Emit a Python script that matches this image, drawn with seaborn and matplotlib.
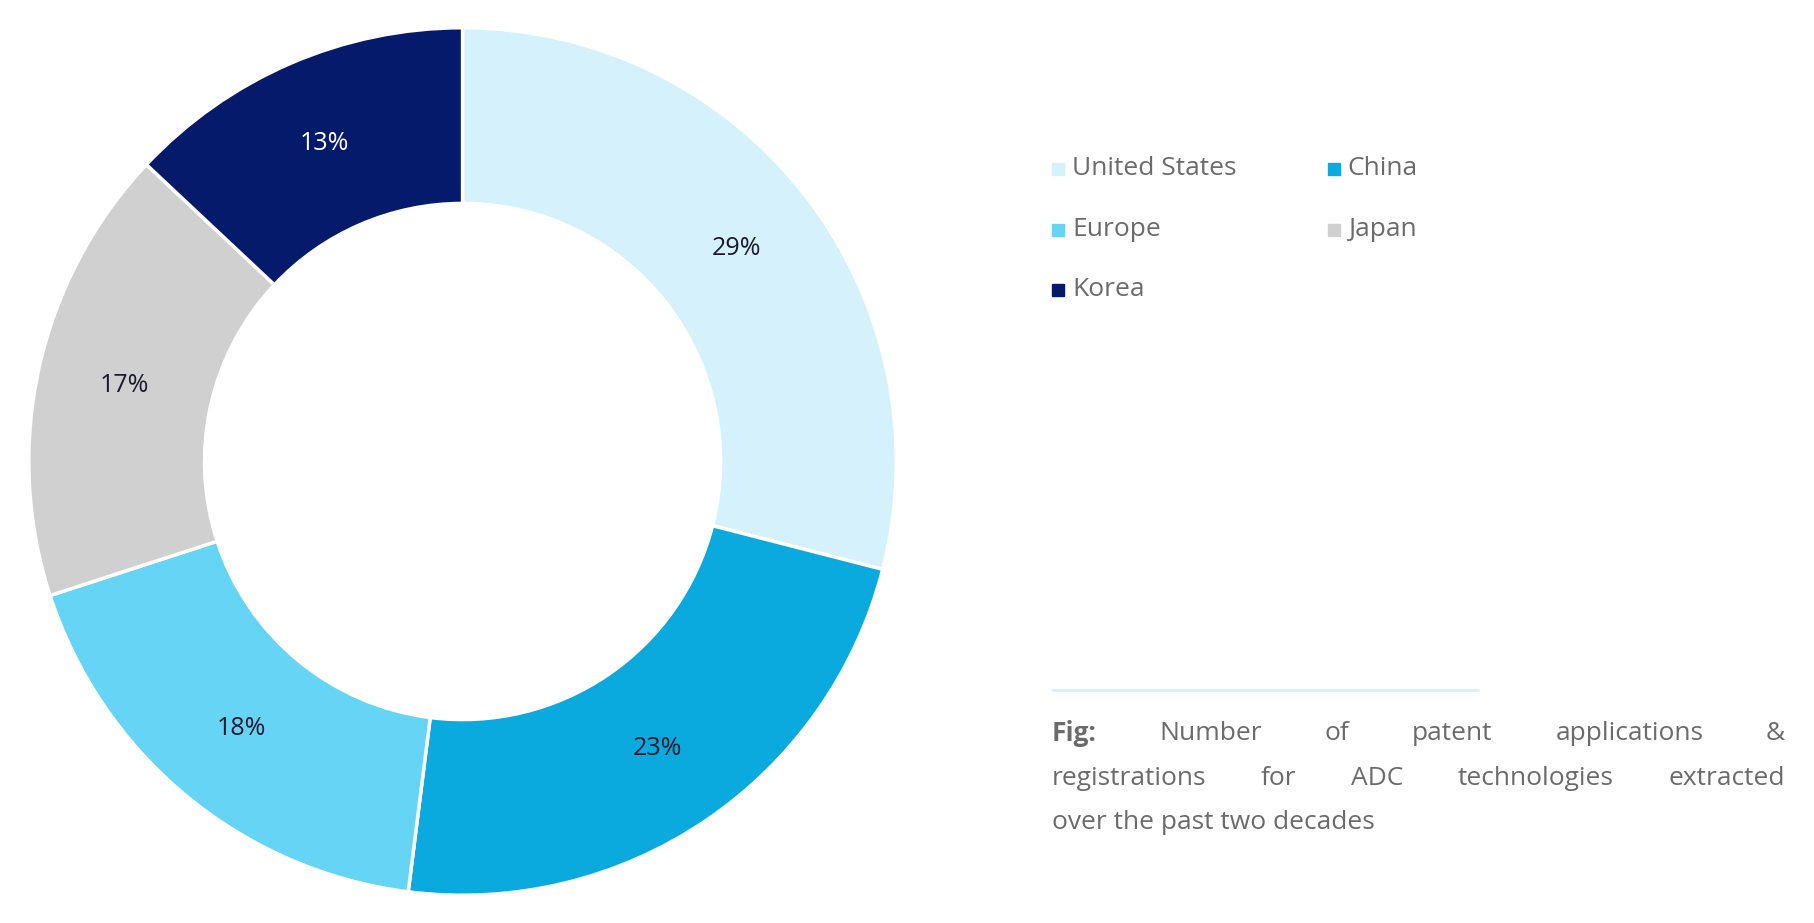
import matplotlib
matplotlib.use("Agg")
import matplotlib.pyplot as plt
import seaborn as sns

sns.set_theme(style="white")
plt.rcParams['font.family'] = ['Open Sans', 'DejaVu Sans']

categories = ["United States", "China", "Europe", "Japan", "Korea"]
values = [29, 23, 18, 17, 13]
colors = ["#d5f1fb", "#0aa9de", "#66d4f5", "#d0d0d0", "#061a6c"]
label_colors = ["#1a1a2e", "#1a1a2e", "#1a1a2e", "#1a1a2e", "white"]

fig = plt.figure(figsize=(18.14, 9.23), dpi=100)
ax = fig.add_axes([0.0135, 0.025, 0.483, 0.95])
wedges, texts, autotexts = ax.pie(
    values, colors=colors, startangle=90, counterclock=False,
    autopct="%d%%", pctdistance=0.8,
    wedgeprops=dict(width=0.405, edgecolor="white", linewidth=2.5),
    textprops=dict(fontsize=18))
for t, c in zip(autotexts, label_colors):
    t.set_color(c)
ax.set_xlim(-1.01, 1.01)
ax.set_ylim(-1.01, 1.01)
ax.set_aspect("equal")
ax.axis("off")

# legend
lx = [0.58, 0.732]
ly = [0.817, 0.751, 0.686]
for i, (cat, col) in enumerate(zip(categories, colors)):
    x = lx[i % 2]; y = ly[i // 2]
    fig.patches.append(plt.Rectangle((x, y - 0.007), 0.0068, 0.0135, color=col,
                                     transform=fig.transFigure, figure=fig))
    fig.text(x + 0.011, y, cat, fontsize=19, color="#6b6b6b", va="center")

# divider line
fig.add_artist(plt.Line2D([0.58, 0.815], [0.252, 0.252], color="#d5f1fb", lw=2))

# justified caption
cap_words = ["Fig:", "Number", "of", "patent", "applications", "&"]
line2 = ["registrations", "for", "ADC", "technologies", "extracted"]
line3 = "over the past two decades"
x0, x1 = 0.58, 0.984
fig.canvas.draw()
r = fig.canvas.get_renderer()
def justify(words, y, bold_first=False):
    ts = []
    for j, w in enumerate(words):
        ts.append(fig.text(0, y, w, fontsize=19, color="#6b6b6b", va="center",
                           fontweight="bold" if (bold_first and j == 0) else "normal"))
    widths = [t.get_window_extent(r).width / fig.bbox.width for t in ts]
    gap = (x1 - x0 - sum(widths)) / (len(words) - 1)
    x = x0
    for t, wd in zip(ts, widths):
        t.set_x(x); x += wd + gap
justify(cap_words, 0.205, bold_first=True)
justify(line2, 0.157)
fig.text(x0, 0.109, line3, fontsize=19, color="#6b6b6b", va="center")

fig.savefig("out.png", dpi=100, facecolor="white")
